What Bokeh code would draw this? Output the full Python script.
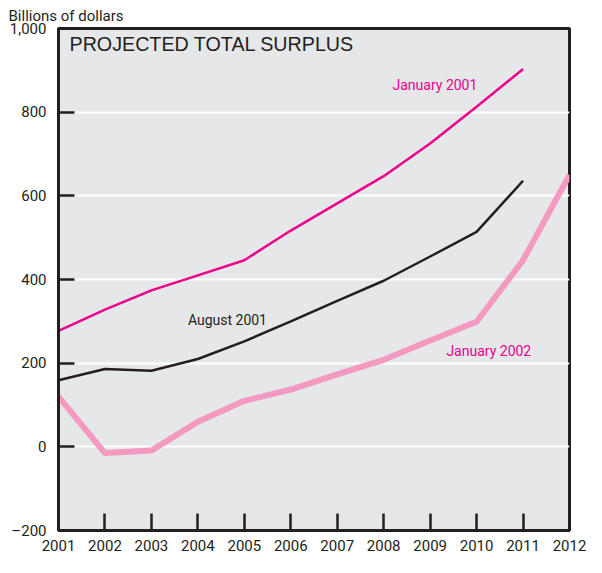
from bokeh.plotting import figure
from bokeh.models import Label, FixedTicker, Range1d
from bokeh.embed import file_html
from bokeh.resources import INLINE

years = list(range(2001, 2013))
jan2001 = [277, 328, 374, 410, 446, 517, 582, 647, 725, 813, 903]
aug2001 = [159, 186, 182, 210, 252, 300, 349, 397, 455, 514, 636]
jan2002 = [120, -15, -9, 60, 110, 137, 173, 208, 254, 299, 446, 650]
y_ticks = [-200, 0, 200, 400, 600, 800, 1000]
y_tick_labels = ["\u2013200", "0", "200", "400", "600", "800", "1,000"]
x_tick_labels = [str(y) for y in years]

FONT = "Roboto"
DARK = "#231f20"
MAGENTA = "#ec008c"
PINK = "#f49ac1"

p = figure(width=586, height=557, output_backend="svg", toolbar_location=None,
           x_range=Range1d(2001, 2012), y_range=Range1d(-200, 1000),
           min_border_left=58, min_border_right=17, min_border_top=28, min_border_bottom=27,
           title="Billions of dollars")

p.title.align = "left"
p.title.offset = -50
p.title.standoff = 7
p.title.text_font = FONT
p.title.text_font_size = "15px"
p.title.text_font_style = "normal"
p.title.text_color = DARK

p.background_fill_color = "#e6e7e8"
p.border_fill_color = "white"
p.outline_line_color = DARK
p.outline_line_width = 3

p.xgrid.grid_line_color = None
p.ygrid.grid_line_color = "white"
p.ygrid.grid_line_width = 2
p.ygrid.ticker = FixedTicker(ticks=y_ticks)

for ax in (p.xaxis[0], p.yaxis[0]):
    ax.axis_line_color = DARK
    ax.axis_line_width = 3
    ax.major_tick_line_color = DARK
    ax.major_tick_line_width = 2.5
    ax.major_tick_out = 0
    ax.minor_tick_line_color = None
    ax.major_label_text_font = FONT
    ax.major_label_text_font_size = "15px"
    ax.major_label_text_color = DARK

p.yaxis.ticker = FixedTicker(ticks=y_ticks)
p.yaxis.major_label_overrides = {t: l for t, l in zip(y_ticks, y_tick_labels)}
p.yaxis.major_tick_in = 16
p.yaxis.major_label_standoff = 12

p.xaxis.ticker = FixedTicker(ticks=years)
p.xaxis.major_label_overrides = {y: l for y, l in zip(years, x_tick_labels)}
p.xaxis.major_tick_in = 17
p.xaxis.major_label_standoff = 9

p.line(years[:len(jan2001)], jan2001, line_color=MAGENTA, line_width=2.5)
p.line(years[:len(aug2001)], aug2001, line_color=DARK, line_width=2.5)
p.line(years, jan2002, line_color=PINK, line_width=6)

p.add_layout(Label(x=11, y=487, x_units="screen", y_units="screen", text="PROJECTED TOTAL SURPLUS",
                   text_font="Liberation Sans", text_font_size="19.7px", text_color=DARK,
                   text_baseline="middle"))

p.add_layout(Label(x=2008.19, y=866, text="January 2001", text_font=FONT, text_font_size="14px",
                   text_color=MAGENTA, text_baseline="middle"))
p.add_layout(Label(x=2003.785, y=303, text="August 2001", text_font=FONT, text_font_size="14px",
                   text_color=DARK, text_baseline="middle"))
p.add_layout(Label(x=2009.35, y=229, text="January 2002", text_font=FONT, text_font_size="14px",
                   text_color=MAGENTA, text_baseline="middle"))

open("out.html", "w").write(file_html(p, INLINE))
